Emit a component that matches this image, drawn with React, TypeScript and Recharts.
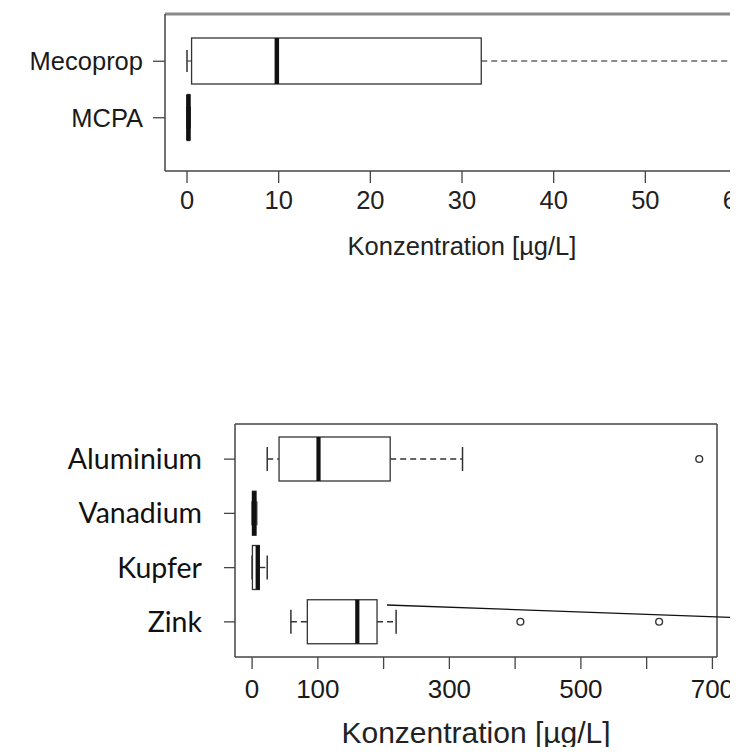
import { BarChart, Bar, XAxis, YAxis, ReferenceArea } from "recharts";

// top panel: herbicides
const topNames = ["Mecoprop", "MCPA"];
const topLow = [0, 0];
const topQ1 = [0.5, 0.05];
const topMedian = [9.8, 0.15];
const topQ3 = [32.1, 0.3];
const topHigh = [60, 0.35];
const topOutliers: number[][] = [[], []];
const topTicks = [0, 10, 20, 30, 40, 50, 60];

// bottom panel: metals
const metalNames = ["Aluminium", "Vanadium", "Kupfer", "Zink"];
const metalLow = [23, 0, 0, 59];
const metalQ1 = [41, 0.5, 0.5, 84];
const metalMedian = [101, 3, 8.5, 160];
const metalQ3 = [210, 6, 11, 190];
const metalHigh = [320, 7, 23, 219];
const metalOutliers: number[][] = [[680], [], [], [408, 619]];
const metalTicks = [0, 100, 200, 300, 400, 500, 600, 700];
const metalTickLabels = [0, 100, 300, 500, 700];

const axisTitle = "Konzentration [µg/L]";

const SANS = "'Liberation Sans', Arial, sans-serif";
const CAL = "Lato, 'Open Sans', sans-serif";

const buildRows = (
  names: string[],
  low: number[],
  q1: number[],
  med: number[],
  q3: number[],
  high: number[],
  outl: number[][]
) =>
  names.map((name, i) => {
    const all = [low[i], high[i], ...outl[i]];
    return {
      name,
      low: low[i],
      q1: q1[i],
      median: med[i],
      q3: q3[i],
      high: high[i],
      outliers: outl[i],
      range: [Math.min(...all), Math.max(...all)],
    };
  });

const topRows = buildRows(topNames, topLow, topQ1, topMedian, topQ3, topHigh, topOutliers);
const metalRows = buildRows(metalNames, metalLow, metalQ1, metalMedian, metalQ3, metalHigh, metalOutliers);

const topPad = { top: 19, bottom: 25 };
const metalPad = { top: 8, bottom: 8 };

type BoxStyle = { cap: number; median: number; whisker: string };

// draws whiskers, box, median and outliers; positions come from the bar's own scaled x/width
const makeBox = (st: BoxStyle) => (props: any) => {
  const { x, y, width, height, payload } = props;
  const [lo, hi] = payload.range;
  const k = width / (hi - lo);
  const px = (v: number) => x + (v - lo) * k;
  const cy = y + height / 2;
  const c = st.cap / 2;
  return (
    <g>
      <line x1={px(payload.low)} x2={px(payload.q1)} y1={cy} y2={cy} stroke={st.whisker} strokeWidth={1.4} strokeDasharray="6 4" />
      <line x1={px(payload.q3)} x2={px(payload.high)} y1={cy} y2={cy} stroke={st.whisker} strokeWidth={1.4} strokeDasharray="6 4" />
      <line x1={px(payload.low)} x2={px(payload.low)} y1={cy - c} y2={cy + c} stroke="#333" strokeWidth={1.5} />
      <line x1={px(payload.high)} x2={px(payload.high)} y1={cy - c} y2={cy + c} stroke="#333" strokeWidth={1.5} />
      <rect x={px(payload.q1)} y={y} width={px(payload.q3) - px(payload.q1)} height={height} fill="#fff" stroke="#333" strokeWidth={1.3} />
      <line x1={px(payload.median)} x2={px(payload.median)} y1={y} y2={y + height} stroke="#111" strokeWidth={st.median} />
      {payload.outliers.map((o: number, i: number) => (
        <circle key={i} cx={px(o)} cy={cy} r={3.4} fill="none" stroke="#333" strokeWidth={1.4} />
      ))}
    </g>
  );
};

// frame edges not covered by the axes (the area spans the padded category range)
const frameEdges = (
  pad: { top: number; bottom: number },
  top: { stroke: string; w: number },
  right: boolean
) => (props: any) => {
  const { x, y, width, height } = props;
  const y0 = y - pad.top;
  const y1 = y + height + pad.bottom;
  return (
    <g>
      <line x1={x} x2={x + width} y1={y0} y2={y0} stroke={top.stroke} strokeWidth={top.w} />
      {right && <line x1={x + width} x2={x + width} y1={y0} y2={y1} stroke="#444" strokeWidth={1.5} />}
    </g>
  );
};

const titleLabel = (dy: number, size: number) => (props: any) => {
  const vb = props.viewBox;
  return (
    <text x={vb.x + vb.width / 2} y={vb.y + dy} textAnchor="middle" fontFamily={SANS} fontSize={size} fill="#222">
      {axisTitle}
    </text>
  );
};

const App = () => {
  return (
    <div style={{ position: "relative", width: 738, height: 755, overflow: "hidden", margin: -8, background: "#fff" }}>
      <div style={{ position: "absolute", left: 0, top: 0 }}>
        <BarChart
          width={790}
          height={270}
          data={topRows}
          layout="vertical"
          margin={{ top: 14, right: 31, left: 0, bottom: 0 }}
        >
          <XAxis
            type="number"
            domain={[-2.4, 62.4]}
            ticks={topTicks}
            interval={0}
            height={99}
            tickSize={12}
            tickMargin={8}
            axisLine={{ stroke: "#444", strokeWidth: 1.5 }}
            tickLine={{ stroke: "#444", strokeWidth: 1.3 }}
            tick={{ fill: "#222", fontSize: 25.5, fontFamily: SANS }}
            label={titleLabel(84, 25.5)}
          />
          <YAxis
            type="category"
            dataKey="name"
            width={165}
            interval={0}
            padding={topPad}
            tickSize={12}
            tickMargin={10}
            axisLine={{ stroke: "#444", strokeWidth: 1.5 }}
            tickLine={{ stroke: "#444", strokeWidth: 1.3 }}
            tick={{ fill: "#1a1a1a", fontSize: 25.5, fontFamily: SANS }}
          />
          <ReferenceArea
            x1={-2.4}
            x2={62.4}
            fill="none"
            stroke="none"
            ifOverflow="visible"
            shape={frameEdges(topPad, { stroke: "#8a8a8a", w: 3 }, false)}
          />
          <Bar
            dataKey="range"
            barSize={46}
            isAnimationActive={false}
            shape={makeBox({ cap: 22, median: 4.5, whisker: "#666" })}
          />
        </BarChart>
      </div>

      <div style={{ position: "absolute", left: 0, top: 380 }}>
        <BarChart
          width={738}
          height={375}
          data={metalRows}
          layout="vertical"
          margin={{ top: 44, right: 21, left: 0, bottom: 0 }}
        >
          <XAxis
            type="number"
            domain={[-26, 707]}
            ticks={metalTicks}
            interval={0}
            height={98}
            tickSize={12}
            tickMargin={11}
            tickFormatter={(v: number) => (metalTickLabels.includes(v) ? String(v) : "")}
            axisLine={{ stroke: "#444", strokeWidth: 1.5 }}
            tickLine={{ stroke: "#444", strokeWidth: 1.3 }}
            tick={{ fill: "#1a1a1a", fontSize: 26, fontFamily: SANS }}
            label={titleLabel(86, 30)}
          />
          <YAxis
            type="category"
            dataKey="name"
            width={235}
            interval={0}
            padding={metalPad}
            tickSize={11}
            tickMargin={22}
            axisLine={{ stroke: "#444", strokeWidth: 1.5 }}
            tickLine={{ stroke: "#444", strokeWidth: 1.3 }}
            tick={{ fill: "#111", fontSize: 28.5, fontFamily: CAL }}
          />
          <ReferenceArea
            x1={-26}
            x2={707}
            fill="none"
            stroke="none"
            ifOverflow="visible"
            shape={frameEdges(metalPad, { stroke: "#444", w: 1.5 }, true)}
          />
          <Bar
            dataKey="range"
            barSize={44}
            isAnimationActive={false}
            shape={makeBox({ cap: 24, median: 4.2, whisker: "#333" })}
          />
        </BarChart>
      </div>

      {/* annotation stroke crossing the Zink row */}
      <svg width={738} height={755} style={{ position: "absolute", left: 0, top: 0, pointerEvents: "none" }}>
        <line x1={387} y1={605} x2={738} y2={617.7} stroke="#111" strokeWidth={1.3} />
      </svg>
    </div>
  );
};

export default App;
